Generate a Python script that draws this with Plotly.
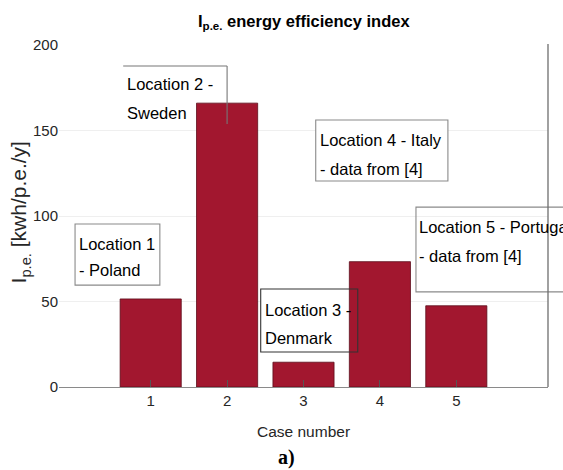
import plotly.graph_objects as go

# Energy efficiency index per case
cases = [1, 2, 3, 4, 5]
ipe_values = [51.5, 166, 14.5, 73.3, 47.5]
tick_vals_y = [0, 50, 100, 150, 200]
tick_text_y = ["0", "50", "100", "150", "200"]

# Location callouts: text lines, line centres (y), text left (x), box x0/x1, box top/bottom
callouts = [
    dict(lines=["Location 1", "- Poland"], line_y=[83.9, 68.4], tx=0.03,
         x0=0.01, x1=1.12, y1=95.3, y0=59.6, edge="#8a8a8a"),
    dict(lines=["Location 3 -", "Denmark"], line_y=[45.3, 28.9], tx=2.47,
         x0=2.44, x1=3.71, y1=57.3, y0=20.5, edge="#333333"),
    dict(lines=["Location 4 - Italy", "- data from [4]"], line_y=[144.2, 127.2], tx=3.19,
         x0=3.16, x1=4.89, y1=156.1, y0=120.5, edge="#8a8a8a"),
]

SANS = "Liberation Sans Narrow, Arial Narrow, Liberation Sans, Arial, sans-serif"
BAR_COLOR = "#A2172F"
TEXT_COLOR = "#262626"
BOX_FONT = dict(family=SANS, size=16.5, color="black")

fig = go.Figure()
fig.add_trace(go.Bar(
    x=cases, y=ipe_values, width=0.8,
    marker=dict(color=BAR_COLOR, line=dict(color="#5c0d1b", width=0.8)),
))

shapes = []
annotations = []


def text_line(x, y, text, xref="x", yref="y"):
    return dict(x=x, y=y, xref=xref, yref=yref, xanchor="left", yanchor="middle",
                text=text, align="left", showarrow=False, font=BOX_FONT)


for c in callouts:
    shapes.append(dict(type="rect", xref="x", yref="y", x0=c["x0"], x1=c["x1"], y0=c["y0"], y1=c["y1"],
                       fillcolor="white", line=dict(width=0), layer="between"))
    shapes.append(dict(type="rect", xref="x", yref="y", x0=c["x0"], x1=c["x1"], y0=c["y0"], y1=c["y1"],
                       fillcolor="rgba(0,0,0,0)", line=dict(color=c["edge"], width=1.1),
                       layer="above"))
    for txt, ly in zip(c["lines"], c["line_y"]):
        annotations.append(text_line(c["tx"], ly, txt))

# Location 2 box: top and right edges only
shapes.append(dict(type="line", xref="x", yref="y", x0=0.64, x1=2.0, y0=187.7, y1=187.7,
                   line=dict(color="#777", width=1.1), layer="above"))
shapes.append(dict(type="line", xref="x", yref="y", x0=2.0, x1=2.0, y0=153.8, y1=187.7,
                   line=dict(color="#777", width=1.1), layer="above"))
annotations.append(text_line(0.67, 177.0, "Location 2 -"))
annotations.append(text_line(0.67, 160.0, "Sweden"))

# Location 5 box runs past the right edge of the axes
shapes.append(dict(type="rect", xref="paper", yref="paper", x0=0.730, x1=1.2, y0=0.278, y1=0.526,
                   fillcolor="white", line=dict(width=0), layer="between"))
shapes.append(dict(type="rect", xref="paper", yref="paper", x0=0.730, x1=1.2, y0=0.278, y1=0.526,
                   fillcolor="rgba(0,0,0,0)", line=dict(color="#8a8a8a", width=1.1), layer="above"))
annotations.append(text_line(0.733, 0.468, "Location 5 - Portugal", xref="paper", yref="paper"))
annotations.append(text_line(0.733, 0.3845, "- data from [4]", xref="paper", yref="paper"))

# Right axis border
shapes.append(dict(type="line", xref="paper", yref="paper", x0=1, x1=1, y0=0, y1=1.003,
                   line=dict(color="#6e6e6e", width=1.3), layer="above"))

# Title, axis titles and panel label
annotations.append(dict(x=0.501, y=1.066, xref="paper", yref="paper", xanchor="center", yanchor="middle",
                        text="<b>I<sub>p.e.</sub> energy efficiency index</b>", showarrow=False,
                        font=dict(family=SANS, size=16.5, color="black")))
annotations.append(dict(x=0.5, y=-0.1287, xref="paper", yref="paper", xanchor="center", yanchor="middle",
                        text="Case number", showarrow=False,
                        font=dict(family=SANS, size=15.5, color=TEXT_COLOR)))
annotations.append(dict(x=-0.08, y=0.51, xref="paper", yref="paper", xanchor="center", yanchor="middle",
                        text="I<sub>p.e.</sub> [kwh/p.e./y]", textangle=-90, showarrow=False,
                        font=dict(family="Liberation Sans, Arial, sans-serif", size=21, color=TEXT_COLOR)))
annotations.append(dict(x=0.466, y=-0.205, xref="paper", yref="paper", xanchor="center", yanchor="middle",
                        text="<b>a)</b>", showarrow=False,
                        font=dict(family="Liberation Serif, Times New Roman, serif", size=20, color="black")))

fig.update_layout(
    width=563, height=470,
    margin=dict(l=59, r=15, t=45, b=83),
    paper_bgcolor="white", plot_bgcolor="white",
    showlegend=False,
    xaxis=dict(range=[-0.2, 6.2], tickvals=cases, ticktext=[str(c) for c in cases],
               ticks="inside", ticklen=7, tickcolor="#555", tickwidth=1,
               showline=True, linecolor="#8a8a8a", linewidth=1.3,
               showgrid=False, zeroline=False,
               tickfont=dict(family=SANS, size=15, color=TEXT_COLOR)),
    yaxis=dict(range=[0, 200], tickvals=tick_vals_y, ticktext=tick_text_y,
               ticks="", showline=False, showgrid=True, gridcolor="#efefef", gridwidth=1,
               zeroline=False,
               tickfont=dict(family=SANS, size=15, color=TEXT_COLOR)),
    shapes=shapes,
    annotations=annotations,
)

fig.write_html("out.html")
